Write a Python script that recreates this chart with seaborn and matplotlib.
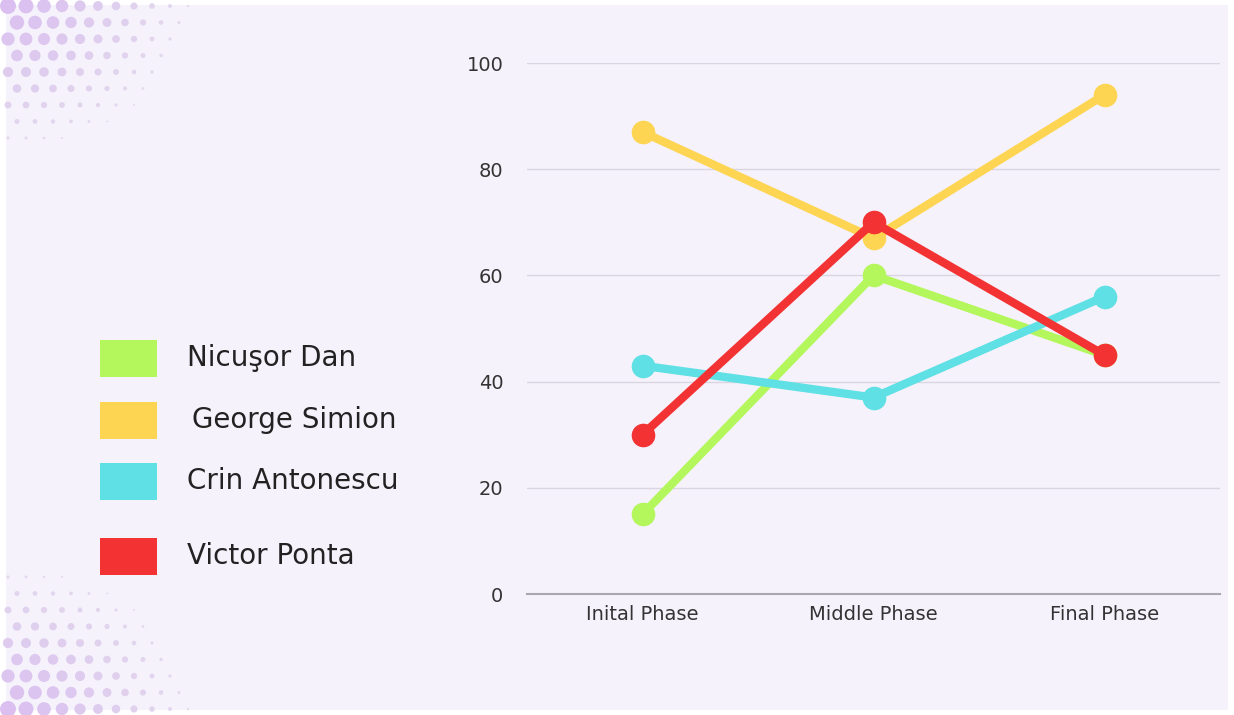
import numpy as np
import pandas as pd
import matplotlib
matplotlib.use('Agg')
import matplotlib.pyplot as plt
import seaborn as sns

# data
phases = ['Inital Phase', 'Middle Phase', 'Final Phase']
candidates = ['Nicuşor Dan', 'George Simion', 'Crin Antonescu', 'Victor Ponta']
nicusor_dan = [15, 60, 45]
george_simion = [87, 67, 94]
crin_antonescu = [43, 37, 56]
victor_ponta = [30, 70, 45]
colors = ['#b4f75c', '#fdd552', '#5ee0e4', '#f33333']
y_ticks = [0, 20, 40, 60, 80, 100]

BG = '#f5f2fc'

sns.set_theme(style='white')
plt.rcParams['font.family'] = ['DejaVu Sans']

df = pd.DataFrame({
    'phase': phases * 4,
    'value': nicusor_dan + george_simion + crin_antonescu + victor_ponta,
    'candidate': [c for c in candidates for _ in phases],
})

fig = plt.figure(figsize=(12.34, 7.15), dpi=100, facecolor='white')

# background panel with halftone dots in the corners
bg = fig.add_axes([0, 0, 1, 1], zorder=-10)
bg.set_xlim(0, 1234)
bg.set_ylim(715, 0)
bg.axis('off')
bg.add_patch(plt.Rectangle((6, 5), 1222, 705, color=BG, lw=0))


def halftone(cx, cy, sy):
    # cx, cy = corner, sy = direction in y
    xs, ys, ss, cs = [], [], [], []
    for i in range(13):
        for j in range(10):
            x = cx + 8 + i * 18 + (j % 2) * 9
            y = cy + sy * (6 + j * 16.5)
            d = np.hypot(x - cx, (y - cy) * 1.3)
            r = 1 - d / 205
            if r > 0.06:
                xs.append(x)
                ys.append(y)
                ss.append((12 * r ** 0.8) ** 2)
                cs.append(r)
    bg.scatter(xs, ys, s=ss, c=cs, cmap=matplotlib.colors.LinearSegmentedColormap.from_list(
        'ht', ['#e4dcec', '#d9bdf0']), vmin=0, vmax=1, lw=0)


halftone(0, 0, 1)
halftone(0, 715, -1)

ax = fig.add_axes([527 / 1234, 1 - 594 / 715, 693 / 1234, 531 / 715])
ax.set_facecolor('none')

sns.lineplot(data=df, x='phase', y='value', hue='candidate', hue_order=candidates,
             palette=colors, marker='o', markersize=17, markeredgewidth=0,
             linewidth=6, sort=False, legend=False, ax=ax, clip_on=False)

ax.set_xlim(-0.5, 2.5)
ax.set_ylim(0, 100)
ax.set_yticks(y_ticks)
ax.set_xlabel('')
ax.set_ylabel('')
for s in ['top', 'right', 'left']:
    ax.spines[s].set_visible(False)
ax.spines['bottom'].set_color('#a9a7b0')
ax.spines['bottom'].set_linewidth(1.5)
ax.yaxis.grid(True, color='#d9d6e2', linewidth=1)
ax.set_axisbelow(True)
ax.tick_params(axis='y', length=0, pad=17, labelsize=14, labelcolor='#333333')
ax.tick_params(axis='x', length=0, pad=8, labelsize=14, labelcolor='#333333')

# legend on the left
leg_y = [358, 420, 481, 556]
leg_dx = [0, 5, 0, 0]
for name, col, y, dx in zip(candidates, colors, leg_y, leg_dx):
    bg.add_patch(plt.Rectangle((100, y - 18.5), 57, 37, color=col, lw=0))
    bg.text(187 + dx, y, name, fontsize=20, color='#222222', va='center', ha='left')

fig.savefig('out.png', dpi=100, facecolor=fig.get_facecolor())
